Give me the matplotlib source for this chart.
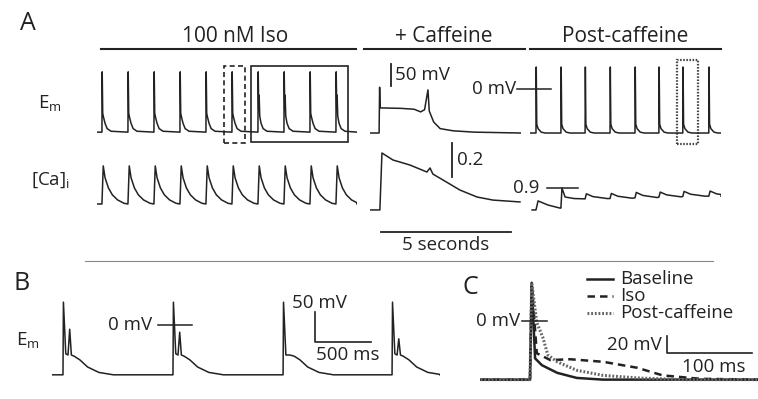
import matplotlib
matplotlib.use("Agg")
import matplotlib.pyplot as plt
from matplotlib.lines import Line2D
from matplotlib.patches import Rectangle

plt.rcParams['font.family'] = ['Open Sans', 'DejaVu Sans']
plt.rcParams['mathtext.fontset'] = 'custom'
plt.rcParams['mathtext.rm'] = 'Open Sans'
plt.rcParams['mathtext.it'] = 'Open Sans'

W, H = 758, 399
INK = '#222222'
FS = 13.5

# ---------------- data ----------------
# A: 100 nM Iso, membrane potential (s, mV)
iso_spikes = [0.19, 1.19, 2.19, 3.19, 4.19, 5.19, 6.19, 7.19, 8.19, 9.19]
iso_doublet = [False, False, False, False, False, False, True, True, False, True]
iso_ap_t = [0, 0.01, 0.03, 0.06, 0.12, 0.2, 0.35]
iso_ap_v = [-98, 39, -55, -64, -78, -90, -96]
iso_ap2_t = [0, 0.01, 0.03, 0.045, 0.07, 0.12, 0.2, 0.35]
iso_ap2_v = [-98, 39, -45, -14, -62, -78, -90, -96]
iso_rest = -98

# A: + Caffeine, membrane potential
caf_em_t = [0, 0.35, 0.37, 0.39, 0.45, 1.2, 1.7, 1.95, 2.1, 2.23, 2.28, 2.45, 2.7, 3.2, 4.0, 5.8]
caf_em_v = [-100, -100, 4, -43, -43, -44, -46, -52, -47, -2, -50, -75, -90, -95, -98, -100]

# A: post-caffeine, membrane potential
post_spikes = [0.23, 1.19, 2.12, 3.08, 4.04, 4.96, 5.88, 6.88]
post_ap_t = [0, 0.01, 0.03, 0.08, 0.2, 0.35]
post_ap_v = [-100, 50, -80, -90, -98, -100]
post_rest = -100

# A: [Ca]i ratio
iso_ca_t = [0, 0.05, 0.12, 0.25, 0.4, 0.6, 0.85]
iso_ca_v = [0.806, 1.03, 0.96, 0.90, 0.86, 0.83, 0.81]
iso_ca_rest = 0.806

caf_ca_t = [0, 0.38, 0.46, 0.88, 1.54, 2.19, 2.31, 2.42, 2.81, 3.46, 4.12, 4.73, 5.77]
caf_ca_v = [0.771, 0.771, 1.106, 1.065, 1.035, 0.994, 1.018, 0.982, 0.947, 0.888, 0.847, 0.829, 0.818]

post_ca_t = [0.08, 0.23, 0.31, 0.69, 1.15, 1.19, 1.23, 1.35, 1.7]
post_ca_v = [0.771, 0.771, 0.824, 0.80, 0.782, 0.782, 0.9, 0.847, 0.838]
post_ca_small = [2.12, 3.08, 4.04, 4.96, 5.88, 6.88]
post_ca_base = [0.836, 0.838, 0.842, 0.846, 0.850, 0.852]
post_ca_amp = [0.03, 0.03, 0.032, 0.03, 0.03, 0.03]

# B: membrane potential (s, mV)
b_spikes = [0.098, 1.08, 2.063, 3.036]
b_second = [-7, -12, None, -23]
b_rest = -83

# C: single action potentials (ms, mV)
c_base_t = [-58, 0, 2, 6, 14, 32, 55, 86, 268]
c_base_v = [-69, -69, 45, -44, -52, -61, -67, -69, -69]
c_iso_t = [-58, 0, 2, 8, 24, 47, 86, 126, 156, 200, 268]
c_iso_v = [-69, -69, 45, -38, -46, -45, -48, -55, -64, -68, -69]
c_post_t = [-58, 0, 2, 8, 15, 21, 32, 55, 86, 126, 180, 268]
c_post_v = [-69, -69, 45, -2, -19, -40, -48, -58, -64, -67, -69, -69]
c_labels = ['Baseline', 'Iso', 'Post-caffeine']


def train(starts, tt, vv, rest, t_end, alt=None):
    t, v = [0.0], [rest]
    for i, s in enumerate(starts):
        a, b = (alt if alt is not None and alt[i] else (tt, vv))
        for dt, val in zip(a, b):
            t.append(s + dt)
            v.append(val)
    t.append(t_end)
    v.append(rest)
    return t, v


def px_axes(fig, left, top, right, bottom):
    ax = fig.add_axes([left / W, 1 - bottom / H, (right - left) / W, (bottom - top) / H])
    ax.axis('off')
    return ax


fig = plt.figure(figsize=(W / 100, H / 100), dpi=100)

em_lim = (-138.6, 77.3)
ca_lim = (0.5353, 1.1824)
kw = dict(color=INK, lw=1.1)

# ---- A, Em row ----
ax = px_axes(fig, 97, 55, 357, 150)
ax.set_xlim(0, 10); ax.set_ylim(*em_lim)
alt = [(iso_ap2_t, iso_ap2_v) if d else None for d in iso_doublet]
t, v = [0.0], [iso_rest]
for s, a in zip(iso_spikes, alt):
    tt, vv = a if a else (iso_ap_t, iso_ap_v)
    t += [s + d for d in tt]; v += vv
t.append(10); v.append(iso_rest)
ax.plot(t, v, **kw)
ax.add_patch(Rectangle((4.88, -123), 0.81, 175, fill=False, ec=INK, lw=1.2,
                       ls=(0, (3, 2)), clip_on=False))
ax.add_patch(Rectangle((5.92, -121), 3.73, 173, fill=False, ec=INK, lw=1.2, clip_on=False))
ax.plot([0.15, 9.96], [91, 91], color=INK, lw=1.5, clip_on=False)
ax.text(5.3, 120, '100 nM Iso', ha='center', va='center', fontsize=15, color=INK)

ax = px_axes(fig, 370, 55, 521, 150)
ax.set_xlim(0, 5.81); ax.set_ylim(*em_lim)
ax.plot(caf_em_t, caf_em_v, **kw)
ax.plot([0.81, 0.81], [6.8, 56.8], color=INK, lw=1.3)
ax.text(0.96, 32, '50 mV', ha='left', va='center', fontsize=FS, color=INK)
ax.plot([-0.23, 5.96], [91, 91], color=INK, lw=1.5, clip_on=False)
ax.text(2.83, 120, '+ Caffeine', ha='center', va='center', fontsize=15, color=INK)

ax = px_axes(fig, 530, 55, 721, 150)
ax.set_xlim(0, 7.35); ax.set_ylim(*em_lim)
t, v = train(post_spikes, post_ap_t, post_ap_v, post_rest, 7.35)
ax.plot(t, v, **kw)
ax.add_patch(Rectangle((5.65, -125), 0.81, 191, fill=False, ec='#444444', lw=1.6,
                       ls=(0, (0.7, 0.7)), clip_on=False))
ax.plot([-0.5, 0.81], [0, 0], color=INK, lw=1.1, clip_on=False)
ax.text(-0.54, 0, '0 mV', ha='right', va='center', fontsize=FS, color=INK)
ax.plot([0, 7.35], [91, 91], color=INK, lw=1.5, clip_on=False)
ax.text(3.67, 120, 'Post-caffeine', ha='center', va='center', fontsize=15, color=INK)

# ---- A, Ca row ----
ax = px_axes(fig, 97, 140, 357, 250)
ax.set_xlim(0, 10); ax.set_ylim(*ca_lim)
t, v = train(iso_spikes, iso_ca_t, iso_ca_v, iso_ca_rest, 10)
ax.plot(t, v, **kw)

ax = px_axes(fig, 370, 140, 521, 250)
ax.set_xlim(0, 5.81); ax.set_ylim(*ca_lim)
ax.plot(caf_ca_t, caf_ca_v, **kw)
ax.plot([3.15, 3.15], [0.965, 1.165], color=INK, lw=1.3)
ax.text(3.35, 1.065, '0.2', ha='left', va='center', fontsize=FS, color=INK)
ax.plot([0.42, 5.42], [0.641, 0.641], color=INK, lw=1.3)
ax.text(2.92, 0.565, '5 seconds', ha='center', va='center', fontsize=FS, color=INK)

ax = px_axes(fig, 530, 140, 721, 250)
ax.set_xlim(0, 7.35); ax.set_ylim(*ca_lim)
t, v = list(post_ca_t), list(post_ca_v)
for s, b, a in zip(post_ca_small, post_ca_base, post_ca_amp):
    t += [s, s + 0.05, s + 0.3, s + 0.85]
    v += [b, b + a, b + a * 0.45, b + 0.002]
t.append(7.35); v.append(post_ca_base[-1])
ax.plot(t, v, **kw)
ax.plot([0.65, 1.85], [0.9, 0.9], color=INK, lw=1.1)
ax.text(0.38, 0.9, '0.9', ha='right', va='center', fontsize=FS, color=INK)

fig.text(20 / W, 1 - 24 / H, 'A', fontsize=18, ha='left', va='center', color=INK)
fig.text(50 / W, 1 - 103 / H, r'E$_{\rm m}$', fontsize=FS, ha='center', va='center', color=INK)
fig.text(50 / W, 1 - 180 / H, r'[Ca]$_{\rm i}$', fontsize=FS, ha='center', va='center', color=INK)

fig.add_artist(Line2D([85 / W, 713 / W], [1 - 261 / H, 1 - 261 / H], color='#888888', lw=0.8))

# ---- B ----
ax = px_axes(fig, 52, 290, 440, 390)
ax.set_xlim(0, 3.464); ax.set_ylim(-108.3, 58.3)
t, v = [0.0], [b_rest]
for s, sec in zip(b_spikes, b_second):
    if sec is None:
        tt = [0, 0.004, 0.025, 0.06, 0.1, 0.15, 0.22, 0.32, 0.45]
        vv = [b_rest, 38, -50, -50, -52, -58, -70, -79, b_rest]
    else:
        tt = [0, 0.004, 0.025, 0.045, 0.06, 0.075, 0.1, 0.15, 0.22, 0.32, 0.45]
        vv = [b_rest, 38, -48, -50, sec, -50, -52, -58, -70, -79, b_rest]
    t += [s + d for d in tt]; v += vv
t.append(3.464); v.append(b_rest)
ax.plot(t, v, **kw)
ax.plot([0.946, 1.25], [0, 0], color=INK, lw=1.1)
ax.text(0.893, 0, '0 mV', ha='right', va='center', fontsize=FS, color=INK)
ax.plot([2.348, 2.348, 2.848], [21.7, -28.3, -28.3], color=INK, lw=1.2)
ax.text(2.14, 36.7, '50 mV', ha='left', va='center', fontsize=FS, color=INK)
ax.text(2.357, -50, '500 ms', ha='left', va='center', fontsize=FS, color=INK)

fig.text(22 / W, 1 - 284 / H, 'B', fontsize=18, ha='center', va='center', color=INK)
fig.text(28 / W, 1 - 340 / H, r'E$_{\rm m}$', fontsize=FS, ha='center', va='center', color=INK)

# ---- C ----
ax = px_axes(fig, 480, 270, 758, 390)
ax.set_xlim(-58.8, 268.2); ax.set_ylim(-81.2, 60)
styles = [dict(color=INK, lw=1.8, ls='-'),
          dict(color=INK, lw=1.8, ls=(0, (3, 2))),
          dict(color='#666666', lw=2.2, ls=(0, (0.6, 0.6)))]
for (tt, vv), st in zip([(c_base_t, c_base_v), (c_iso_t, c_iso_v), (c_post_t, c_post_v)], styles):
    ax.plot(tt, vv, **st)
ax.plot([-9.4, 20], [0, 0], color=INK, lw=1.1)
ax.text(-11.8, 0, '0 mV', ha='right', va='center', fontsize=FS, color=INK)
ax.plot([161, 161, 261], [-17.6, -37.6, -37.6], color=INK, lw=1.2)
ax.text(155, -28, '20 mV', ha='right', va='center', fontsize=FS, color=INK)
ax.text(216, -54, '100 ms', ha='center', va='center', fontsize=FS, color=INK)
for i, (lab, st) in enumerate(zip(c_labels, styles)):
    yy = 0.925 - i * 0.142
    ax.plot([0.385, 0.478], [yy, yy], transform=ax.transAxes, **st)
    ax.text(0.504, yy, lab, transform=ax.transAxes, ha='left', va='center',
            fontsize=FS, color=INK)

fig.text(470 / W, 1 - 287 / H, 'C', fontsize=18, ha='center', va='center', color=INK)

fig.savefig('out.png', dpi=100)
